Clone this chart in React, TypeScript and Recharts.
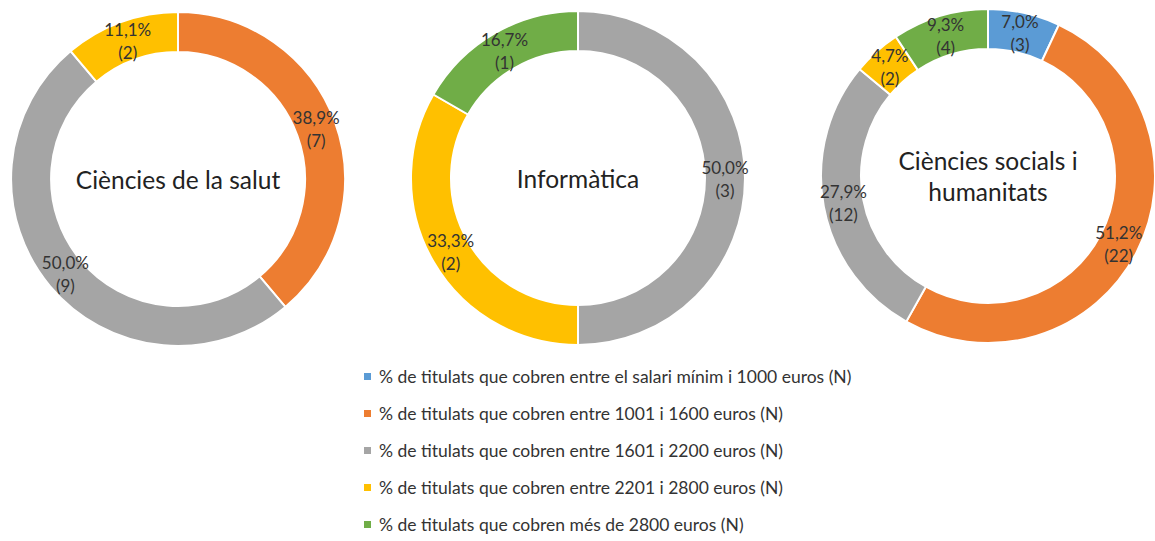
import React from "react";
import { PieChart, Pie, Cell, Legend, Label } from "recharts";

const categories = [
  "% de titulats que cobren entre el salari mínim i 1000 euros (N)",
  "% de titulats que cobren entre 1001 i 1600 euros (N)",
  "% de titulats que cobren entre 1601 i 2200 euros (N)",
  "% de titulats que cobren entre 2201 i 2800 euros (N)",
  "% de titulats que cobren més de 2800 euros (N)",
];
const colors = ["#5B9BD5", "#ED7D31", "#A5A5A5", "#FFC000", "#70AD47"];

const areas = ["Ciències de la salut", "Informàtica", "Ciències socials i humanitats"];
const salutN = [0, 7, 9, 2, 0];
const informaticaN = [0, 0, 3, 2, 1];
const socialsN = [3, 22, 12, 2, 4];

const FONT = "Lato, 'Open Sans', sans-serif";
const RAD = Math.PI / 180;

const toData = (vals: number[]) =>
  vals
    .map((v, i) => ({ name: categories[i], value: v, color: colors[i] }))
    .filter((d) => d.value > 0);

const renderLabel = (p: any) => {
  const r = (p.innerRadius + p.outerRadius) / 2;
  const x = p.cx + r * Math.cos(-p.midAngle * RAD);
  const y = p.cy + r * Math.sin(-p.midAngle * RAD);
  const pct = (p.percent * 100).toFixed(1).replace(".", ",") + "%";
  return (
    <g>
      <text x={x} y={y - 11} textAnchor="middle" dominantBaseline="central" fill="#333" fontSize={17} fontFamily={FONT}>
        {pct}
      </text>
      <text x={x} y={y + 12} textAnchor="middle" dominantBaseline="central" fill="#333" fontSize={17} fontFamily={FONT}>
        ({p.value})
      </text>
    </g>
  );
};

// centre title, drawn at the donut's own centre
const centerTitle = (lines: string[], cx: number, cy: number) => () => {
  const off = ((lines.length - 1) * 31) / 2;
  return (
    <g>
      {lines.map((l, i) => (
        <text key={i} x={cx} y={cy - off + i * 31} textAnchor="middle" dominantBaseline="central" fill="#222" fontSize={24.5} fontFamily={FONT}>
          {l}
        </text>
      ))}
    </g>
  );
};

const LegendBox = () => (
  <div style={{ fontFamily: FONT, fontSize: 17.5, color: "#333" }}>
    {categories.map((c, i) => (
      <div key={i} style={{ height: 37, display: "flex", alignItems: "center", whiteSpace: "nowrap" }}>
        <span style={{ display: "inline-block", width: 7, height: 7, background: colors[i], marginRight: 8 }} />
        <span>{c}</span>
      </div>
    ))}
  </div>
);

const donuts = [
  { data: toData(salutN), cx: 178, cy: 179, title: [areas[0]] },
  { data: toData(informaticaN), cx: 578, cy: 178, title: [areas[1]] },
  { data: toData(socialsN), cx: 988, cy: 176, title: ["Ciències socials i", "humanitats"] },
];

export default function App() {
  return (
    <div style={{ position: "absolute", left: 0, top: 0, width: 1155, height: 541, background: "#fff" }}>
      <PieChart width={1155} height={541} margin={{ top: 0, right: 0, bottom: 0, left: 0 }}>
        {donuts.map((d, k) => (
          <Pie
            key={k}
            data={d.data}
            dataKey="value"
            nameKey="name"
            cx={d.cx}
            cy={d.cy}
            innerRadius={127}
            outerRadius={167}
            startAngle={90}
            endAngle={-270}
            stroke="#fff"
            strokeWidth={2}
            label={renderLabel}
            labelLine={false}
            isAnimationActive={false}
          >
            {d.data.map((e, i) => (
              <Cell key={i} fill={e.color} />
            ))}
            <Label position="center" content={centerTitle(d.title, d.cx, d.cy)} />
          </Pie>
        ))}
        <Legend
          content={<LegendBox />}
          wrapperStyle={{ position: "absolute", left: 364, top: 358, width: 560, bottom: "auto" }}
        />
      </PieChart>
    </div>
  );
}
